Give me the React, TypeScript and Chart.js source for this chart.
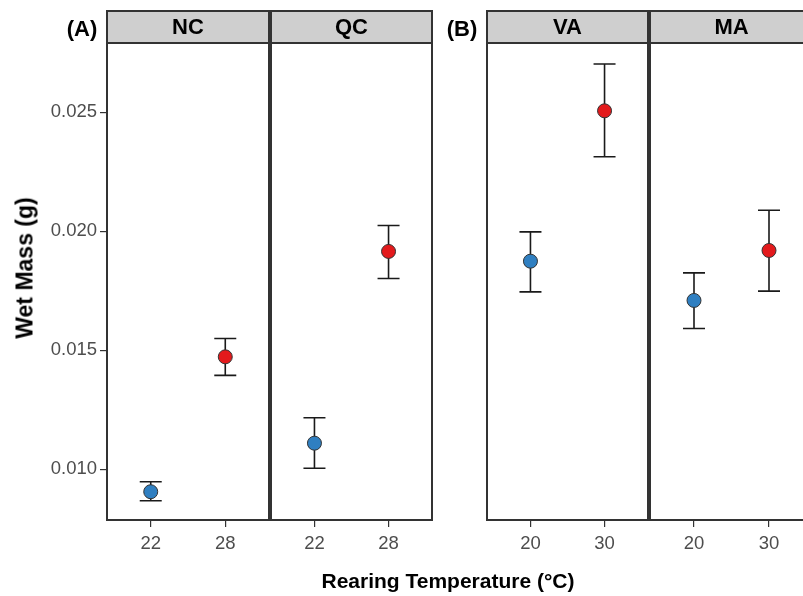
import React, { useEffect, useRef } from "react";
import { Chart, registerables } from "chart.js";

Chart.register(...registerables);

// ---- data ----
const panelNames = ["NC", "QC", "VA", "MA"];
const tempsA = ["22", "28"];
const tempsB = ["20", "30"];
const ncMean = [0.00905, 0.01472];
const ncLow = [0.00867, 0.01394];
const ncHigh = [0.00947, 0.01549];
const qcMean = [0.01109, 0.01915];
const qcLow = [0.01004, 0.01801];
const qcHigh = [0.01216, 0.02024];
const vaMean = [0.01874, 0.02506];
const vaLow = [0.01745, 0.02313];
const vaHigh = [0.01997, 0.02703];
const maMean = [0.01709, 0.01919];
const maLow = [0.01591, 0.01748];
const maHigh = [0.01825, 0.02088];
const yTicks = [0.01, 0.015, 0.02, 0.025];
const yMin = 0.00782;
const yMax = 0.02791;
const pointColors = ["#2F7FC1", "#E31A1C"];

const FONT = "'Liberation Sans', Arial, Helvetica, sans-serif";
const DARK = "#333333";

type PanelDef = {
  name: string;
  labels: string[];
  mean: number[];
  low: number[];
  high: number[];
  left: number;
  width: number;
  showY: boolean;
};

const panels: PanelDef[] = [
  { name: panelNames[0], labels: tempsA, mean: ncMean, low: ncLow, high: ncHigh, left: 0, width: 270, showY: true },
  { name: panelNames[1], labels: tempsA, mean: qcMean, low: qcLow, high: qcHigh, left: 270, width: 163, showY: false },
  { name: panelNames[2], labels: tempsB, mean: vaMean, low: vaLow, high: vaHigh, left: 486, width: 163, showY: false },
  { name: panelNames[3], labels: tempsB, mean: maMean, low: maLow, high: maHigh, left: 649, width: 165, showY: false },
];

const facetPlugin = {
  id: "facet",
  beforeDatasetsDraw(chart: any, _args: any, opts: any) {
    const { ctx } = chart;
    const ys = chart.scales.y;
    const xs = chart.scales.x;
    const ds = chart.data.datasets[0];
    ctx.save();
    ctx.strokeStyle = "#1a1a1a";
    ctx.lineWidth = 1.6;
    ds.data.forEach((p: any, i: number) => {
      const x = xs.getPixelForValue(p.x);
      const yl = ys.getPixelForValue(opts.low[i]);
      const yh = ys.getPixelForValue(opts.high[i]);
      ctx.beginPath();
      ctx.moveTo(x, yl);
      ctx.lineTo(x, yh);
      ctx.moveTo(x - 11, yl);
      ctx.lineTo(x + 11, yl);
      ctx.moveTo(x - 11, yh);
      ctx.lineTo(x + 11, yh);
      ctx.stroke();
    });
    ctx.restore();
  },
  afterDraw(chart: any, _args: any, opts: any) {
    const { ctx, chartArea } = chart;
    const l = chartArea.left;
    const r = chartArea.right;
    ctx.save();
    // panel border
    ctx.strokeStyle = DARK;
    ctx.lineWidth = 2;
    ctx.strokeRect(l + 1, chartArea.top, r - l - 2, chartArea.bottom - chartArea.top - 1);
    // strip
    const st = 10;
    const sb = chartArea.top;
    ctx.fillStyle = "#CFCFCF";
    ctx.fillRect(l, st, r - l, sb - st);
    ctx.strokeRect(l + 1, st + 1, r - l - 2, sb - st - 1);
    ctx.fillStyle = "#000000";
    ctx.font = `bold 22px ${FONT}`;
    ctx.textAlign = "center";
    ctx.textBaseline = "middle";
    ctx.fillText(opts.title, (l + r) / 2, (st + sb) / 2 + 1);
    ctx.restore();
  },
};

function Panel({ def }: { def: PanelDef }) {
  const ref = useRef<HTMLCanvasElement>(null);
  useEffect(() => {
    if (!ref.current) return;
    const chart = new Chart(ref.current, {
      type: "scatter",
      data: {
        datasets: [
          {
            data: def.mean.map((m, i) => ({ x: i + 1, y: m })),
            pointBackgroundColor: pointColors,
            pointBorderColor: DARK,
            pointBorderWidth: 1,
            pointRadius: 7,
            pointHoverRadius: 7,
            showLine: false,
          },
        ],
      },
      options: {
        animation: false,
        responsive: false,
        maintainAspectRatio: false,
        events: [],
        layout: { autoPadding: false, padding: { top: 43, left: 0, right: 0, bottom: 0 } },
        plugins: {
          legend: { display: false },
          tooltip: { enabled: false },
          facet: { title: def.name, low: def.low, high: def.high },
        } as any,
        scales: {
          x: {
            type: "linear",
            min: 0.4,
            max: 2.6,
            afterBuildTicks: (axis: any) => {
              axis.ticks = def.labels.map((_, i) => ({ value: i + 1 }));
            },
            afterFit: (axis: any) => {
              axis.height = 75;
            },
            ticks: {
              autoSkip: false,
              maxRotation: 0,
              padding: 6,
              color: "#4D4D4D",
              font: { family: FONT, size: 18.5 },
              callback: (_v: any, i: number) => def.labels[i],
            },
            grid: { drawOnChartArea: false, drawTicks: true, tickLength: 6, color: DARK, lineWidth: 1.2 },
            border: { display: false },
          },
          y: {
            type: "linear",
            min: yMin,
            max: yMax,
            display: true,
            afterBuildTicks: (axis: any) => {
              axis.ticks = yTicks.map((v) => ({ value: v }));
            },
            afterFit: (axis: any) => {
              axis.width = def.showY ? 106 : 0;
            },
            ticks: {
              display: def.showY,
              padding: 3,
              color: "#4D4D4D",
              font: { family: FONT, size: 18.5 },
              callback: (v: any) => Number(v).toFixed(3),
            },
            grid: { drawOnChartArea: false, drawTicks: def.showY, tickLength: 6, color: DARK, lineWidth: 1.2 },
            border: { display: false },
          },
        },
      },
      plugins: [facetPlugin],
    });
    return () => chart.destroy();
  }, [def]);
  return (
    <canvas
      ref={ref}
      width={def.width}
      height={596}
      style={{ position: "absolute", left: def.left, top: 0, width: def.width, height: 596 }}
    />
  );
}

const textStyle = (x: number, y: number, size: number, rotate = 0): React.CSSProperties => ({
  position: "absolute",
  left: x,
  top: y,
  transform: `translate(-50%, -50%) rotate(${rotate}deg)`,
  fontFamily: FONT,
  fontWeight: "bold",
  fontSize: size,
  lineHeight: 1,
  whiteSpace: "nowrap",
  color: "#000",
});

export default function App() {
  return (
    <div
      style={{
        position: "fixed",
        left: 0,
        top: 0,
        width: 803,
        height: 596,
        overflow: "hidden",
        background: "#fff",
      }}
    >
      {panels.map((p) => (
        <Panel key={p.name} def={p} />
      ))}
      <div style={textStyle(82, 29, 22)}>(A)</div>
      <div style={textStyle(462, 29, 22)}>(B)</div>
      <div style={textStyle(25, 268, 23, -90)}>Wet Mass (g)</div>
      <div style={textStyle(448, 580, 21)}>Rearing Temperature (°C)</div>
    </div>
  );
}
